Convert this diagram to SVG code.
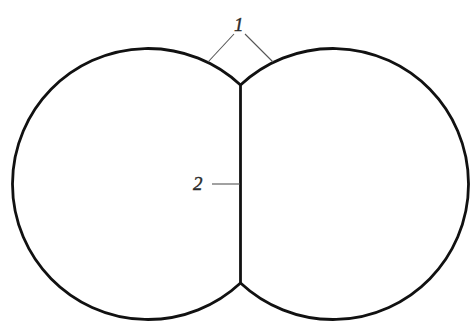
<svg xmlns="http://www.w3.org/2000/svg" width="470" height="322" viewBox="0 0 470 322">
<style>
.outline{fill:none;stroke:#111;stroke-width:2.8;stroke-linejoin:round}
.leader{fill:none;stroke:#555;stroke-width:1.1}
.lbl{font-family:"Liberation Serif",serif;font-style:italic;font-size:19px;fill:#2a2a2a;stroke:#2a2a2a;stroke-width:0.4}
</style>
<rect width="470" height="322" fill="#fff"/>
<g id="left-cell"><path class="outline" d="M240.5,85 A135.5,135.5 0 1 0 240.5,283"/></g>
<g id="right-cell"><path class="outline" d="M240.5,85 A135.5,135.5 0 1 1 240.5,283"/></g>
<g id="wall"><line class="outline" x1="240.5" y1="85" x2="240.5" y2="283"/></g>
<g id="connectors">
<polyline class="leader" points="208,62 234,34"/>
<polyline class="leader" points="273,62 245,34"/>
<line class="leader" x1="212" y1="184" x2="240" y2="184"/>
</g>
<g id="label-1"><text class="lbl" x="234" y="31">1</text></g>
<g id="label-2"><text class="lbl" x="193" y="190">2</text></g>
</svg>
